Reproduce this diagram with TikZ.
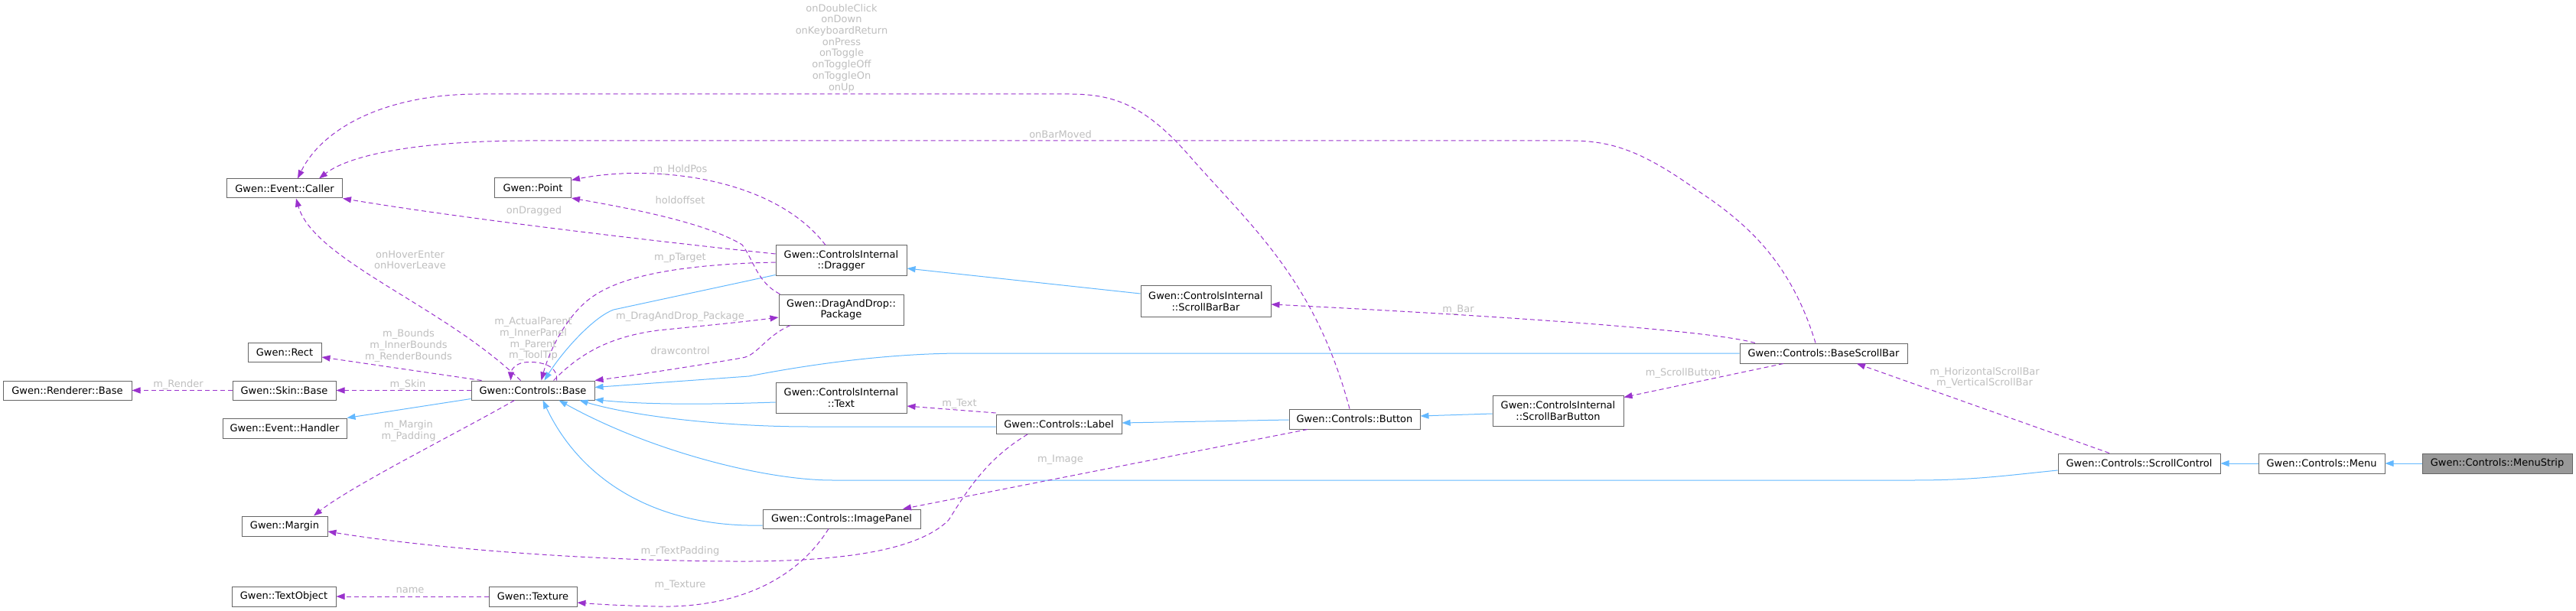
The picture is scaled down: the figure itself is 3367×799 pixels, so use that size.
\documentclass[tikz,border=0pt]{standalone}
\usepackage{fontspec}
\setmainfont{DejaVu Sans}
\usetikzlibrary{arrows.meta}
\definecolor{cInh}{HTML}{63B8FF}
\definecolor{cUse}{HTML}{9A32CD}
\definecolor{cLbl}{HTML}{BEBEBE}
\definecolor{cBord}{HTML}{666666}
\definecolor{cFocus}{HTML}{999999}
\tikzset{
  cls/.style={draw=cBord, line width=1pt, fill=white, inner sep=0pt, align=center, text=black,
    font=\fontsize{13}{14.7}\selectfont},
  inhline/.style={draw=cInh, line width=1pt, -{Triangle[length=11pt,width=8pt]}},
  useline/.style={draw=cUse, line width=1pt, dash pattern=on 6pt off 4pt, -{Triangle[length=11pt,width=8pt]}},
  elab/.style={text=cLbl, inner sep=0pt, align=center, font=\fontsize{13}{14.7}\selectfont},
}
\begin{document}
\begin{tikzpicture}[x=1pt,y=-1pt]
\useasboundingbox (0,0) rectangle (3367,799);
% classes
\node[cls, minimum width=151pt, minimum height=25pt] (caller) at (372,246.5) {Gwen::Event::Caller};
\node[cls, minimum width=100pt, minimum height=26pt] (point) at (696.5,245.5) {Gwen::Point};
\node[cls, minimum width=96pt, minimum height=25pt] (rect) at (372,461) {Gwen::Rect};
\node[cls, minimum width=168pt, minimum height=25pt] (renderer) at (88,510.5) {Gwen::Renderer::Base};
\node[cls, minimum width=135pt, minimum height=25pt] (skin) at (371.5,510.5) {Gwen::Skin::Base};
\node[cls, minimum width=162pt, minimum height=26pt] (handler) at (372,560) {Gwen::Event::Handler};
\node[cls, minimum width=161pt, minimum height=25pt] (base) at (696.5,510.5) {Gwen::Controls::Base};
\node[cls, minimum width=112pt, minimum height=26pt] (margin) at (372,688) {Gwen::Margin};
\node[cls, minimum width=136pt, minimum height=26pt] (textobject) at (371,780) {Gwen::TextObject};
\node[cls, minimum width=115pt, minimum height=26pt] (texture) at (696.5,780) {Gwen::Texture};
\node[cls, minimum width=171pt, minimum height=40pt] (dragger) at (1099.5,341) {Gwen::ControlsInternal\\::Dragger};
\node[cls, minimum width=163pt, minimum height=40pt] (package) at (1099.5,405) {Gwen::DragAndDrop::\\Package};
\node[cls, minimum width=171pt, minimum height=40pt] (text) at (1099.5,520) {Gwen::ControlsInternal\\::Text};
\node[cls, minimum width=206pt, minimum height=25pt] (imagepanel) at (1100,678.5) {Gwen::Controls::ImagePanel};
\node[cls, minimum width=170pt, minimum height=40pt] (scrollbarbar) at (1576,394) {Gwen::ControlsInternal\\::ScrollBarBar};
\node[cls, minimum width=164pt, minimum height=25pt] (label) at (1384,555) {Gwen::Controls::Label};
\node[cls, minimum width=171pt, minimum height=26pt] (button) at (1770.5,548) {Gwen::Controls::Button};
\node[cls, minimum width=171pt, minimum height=40pt] (scrollbarbutton) at (2036.5,537) {Gwen::ControlsInternal\\::ScrollBarButton};
\node[cls, minimum width=219pt, minimum height=26pt] (basescrollbar) at (2383.5,462) {Gwen::Controls::BaseScrollBar};
\node[cls, minimum width=212pt, minimum height=26pt] (scrollcontrol) at (2796,606) {Gwen::Controls::ScrollControl};
\node[cls, minimum width=165pt, minimum height=26pt] (menu) at (3034.5,606) {Gwen::Controls::Menu};
\node[cls, minimum width=196pt, minimum height=26pt, fill=cFocus] (menustrip) at (3264,606) {Gwen::Controls::MenuStrip};

% inheritance
\draw[inhline] ([yshift=2pt]base.south west) -- (handler.north east);
\draw[inhline] ([yshift=2pt]dragger.south west) -- (802,405) .. controls (775,415) and (735,460) .. ([xshift=15pt]base.north);
\draw[inhline] ([yshift=10pt]scrollbarbar.west) -- ([yshift=-10pt]dragger.east);
\draw[inhline] (basescrollbar.west) -- (1260,462) .. controls (1150,462) and (1040,480) .. (979,492) -- ([yshift=4pt]base.east);
\draw[inhline] ([yshift=-6pt]text.west) .. controls (900,530) and (830,528) .. ([yshift=1pt]base.south east);
\draw[inhline] ([yshift=-3pt]label.west) -- (1057,558) .. controls (950,558) and (830,545) .. ([xshift=-20pt]base.south east);
\draw[inhline] ([yshift=-9pt]scrollcontrol.west) .. controls (2620,622) and (2580,628) .. (2500,628) -- (1088,628) .. controls (1000,628) and (850,590) .. ([xshift=34pt]base.south);
\draw[inhline] ([yshift=-8.5pt]imagepanel.west) .. controls (860,690) and (760,630) .. ([xshift=13pt]base.south);
\draw[inhline] ([yshift=-1pt]button.west) -- ([yshift=2pt]label.east);
\draw[inhline] ([yshift=-4pt]scrollbarbutton.west) -- ([yshift=4pt]button.east);
\draw[inhline] (menu.west) -- (scrollcontrol.east);
\draw[inhline] (menustrip.west) -- (menu.east);

% usage
\draw[useline] (skin.west) -- (renderer.east);
\node[elab] (l1) at (233,503) {m\_Render};
\draw[useline] (base.west) -- (skin.east);
\node[elab] (l2) at (533,503) {m\_Skin};
\draw[useline] ([xshift=14pt]base.north west) -- ([yshift=-6pt]rect.east);
\node[elab] (l3) at (534,452) {m\_Bounds\\m\_InnerBounds\\m\_RenderBounds};
\draw[useline] ([xshift=-16pt]base.north) .. controls (580,400) and (410,340) .. ([xshift=15pt]caller.south);
\node[elab] (l4) at (536,340) {onHoverEnter\\onHoverLeave};
\draw[useline] ([xshift=31pt]base.north) .. controls (730,475) and (700,472) .. (685,474) .. controls (672,476) and (668,485) .. ([xshift=-29pt]base.north);
\node[elab] (l5) at (697,443.5) {m\_ActualParent\\m\_InnerPanel\\m\_Parent\\m\_ToolTip};
\draw[useline] ([xshift=-24pt]base.south) .. controls (600,565) and (460,635) .. ([xshift=38pt]margin.north);
\node[elab] (l6) at (534,563.5) {m\_Margin\\m\_Padding};
\draw[useline] ([yshift=9pt]dragger.west) .. controls (850,315) and (600,285) .. (caller.south east);
\node[elab] (l7) at (698,276) {onDragged};
\draw[useline] ([xshift=-20.5pt]dragger.north) .. controls (1010,230) and (850,215) .. ([yshift=10pt]point.east);
\node[elab] (l8) at (889,222) {m\_HoldPos};
\draw[useline] ([xshift=2pt]package.north west) .. controls (990,370) and (985,340) .. (970,320) .. controls (920,290) and (820,272) .. (point.south east);
\node[elab] (l9) at (889,262) {holdoffset};
\draw[useline] ([yshift=-2pt]dragger.west) -- (980,344) .. controls (850,350) and (790,370) .. (760,400) .. controls (730,430) and (715,470) .. ([xshift=11pt]base.north);
\node[elab] (l10) at (889,337) {m\_pTarget};
\draw[useline] ([xshift=27pt]base.north) .. controls (760,460) and (800,440) .. (860,432) .. controls (930,425) and (980,420) .. ([yshift=-10pt]package.west);
\node[elab] (l11) at (889,414) {m\_DragAndDrop\_Package};
\draw[useline] ([xshift=-66.5pt]package.south) .. controls (1000,440) and (990,465) .. (970,468) .. controls (900,480) and (820,492) .. (base.north east);
\node[elab] (l12) at (889,459) {drawcontrol};
\draw[useline] ([yshift=2pt]label.north west) -- ([yshift=-11pt]text.east);
\node[elab] (l13) at (1254,528) {m\_Text};
\draw[useline] ([xshift=-6.5pt]button.north) .. controls (1720,370) and (1640,300) .. (1560,210) .. controls (1500,140) and (1460,123) .. (1398,123) -- (626,123) .. controls (500,123) and (420,170) .. ([xshift=17pt]caller.north);
\node[elab] (l14) at (1100,63) {onDoubleClick\\onDown\\onKeyboardReturn\\onPress\\onToggle\\onToggleOff\\onToggleOn\\onUp};
\draw[useline] ([xshift=-10.5pt]basescrollbar.north) .. controls (2340,340) and (2280,290) .. (2220,250) .. controls (2150,200) and (2110,184) .. (2053,184) -- (690,184) .. controls (560,184) and (460,200) .. ([xshift=45pt]caller.north);
\node[elab] (l15) at (1386,176) {onBarMoved};
\draw[useline] ([xshift=-89.5pt]basescrollbar.north) .. controls (2230,430) and (1900,410) .. ([yshift=-4pt]scrollbarbar.east);
\node[elab] (l16) at (1906,405) {m\_Bar};
\draw[useline] ([xshift=-52.5pt]basescrollbar.south) -- ([yshift=-3pt]scrollbarbutton.north east);
\node[elab] (l17) at (2200,488) {m\_ScrollButton};
\draw[useline] ([xshift=-39pt]scrollcontrol.north) -- ([xshift=43.5pt]basescrollbar.south);
\node[elab] (l18) at (2594,494) {m\_HorizontalScrollBar\\m\_VerticalScrollBar};
\draw[useline] ([xshift=-61.5pt]button.south) -- ([xshift=80pt]imagepanel.north);
\node[elab] (l19) at (1386,601) {m\_Image};
\draw[useline] ([xshift=-41pt]label.south) .. controls (1290,600) and (1265,640) .. (1240,680) .. controls (1200,720) and (1100,735) .. (955,734) .. controls (750,733) and (550,715) .. ([yshift=-7pt]margin.east);
\node[elab] (l20) at (889,721) {m\_rTextPadding};
\draw[useline] ([xshift=-17pt]imagepanel.south) .. controls (1040,760) and (960,795) .. (860,793) .. controls (810,792) and (780,790) .. ([yshift=-8pt]texture.east);
\node[elab] (l21) at (889,765) {m\_Texture};
\draw[useline] (texture.west) -- (textobject.east);
\node[elab] (l22) at (536,772) {name};
\end{tikzpicture}
\end{document}
